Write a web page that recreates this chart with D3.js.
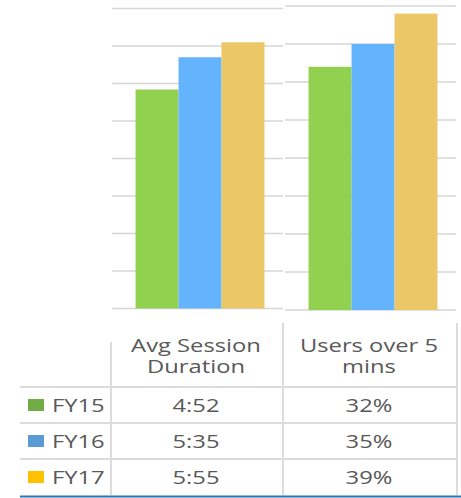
<!DOCTYPE html>
<html>
<head>
<meta charset="utf-8">
<script src="https://cdn.jsdelivr.net/npm/d3@7"></script>
<style>
  body { margin: 0; background: #fff; }
  svg { display: block; font-family: 'Open Sans', sans-serif; }
</style>
</head>
<body>
<div id="chart-area"></div>
<script>
// Data
const series = ['FY15', 'FY16', 'FY17'];
const headerLines = [['Avg Session', 'Duration'], ['Users over 5', 'mins']];
const durationSeconds = [292, 335, 355];
const durationLabels = ['4:52', '5:35', '5:55'];
const usersOver5 = [32, 35, 39];
const usersLabels = ['32%', '35%', '39%'];

// Constants
const WIDTH = 461;
const HEIGHT = 498;
const BAR_COLORS = ['#92d050', '#63b3fd', '#ebc767'];
const KEY_COLORS = ['#70ad47', '#5b9bd5', '#ffc000'];
const GRID = '#d6d6d6';
const TEXT = '#595959';
const STRETCH = 'scale(1.25,1)';   // the source text is drawn wide

const svg = d3.select('#chart-area')
    .append('svg')
    .attr('width', WIDTH)
    .attr('height', HEIGHT);

// Two small panels, one per metric
const panels = [
    { values: durationSeconds, max: 400, step: 50, x: [112, 283], y: [308.5, 8.5] },
    { values: usersOver5, max: 40, step: 5, x: [285, 456], y: [310, 6] }
];

panels.forEach(p => {
    const y = d3.scaleLinear().domain([0, p.max]).range(p.y);
    const x = d3.scaleBand()
        .domain(series)
        .range(p.x)
        .paddingInner(0)
        .paddingOuter(0.49)
        .align(0.56);

    const g = svg.append('g');

    // gridlines
    g.selectAll('line.grid')
        .data(d3.range(0, p.max + p.step / 2, p.step))
        .enter().append('line')
        .attr('class', 'grid')
        .attr('x1', p.x[0])
        .attr('x2', p.x[1])
        .attr('y1', d => y(d))
        .attr('y2', d => y(d))
        .attr('stroke', GRID)
        .attr('stroke-width', 1.5);

    // bars
    g.selectAll('rect')
        .data(p.values)
        .enter().append('rect')
        .attr('x', (d, i) => x(series[i]))
        .attr('width', x.bandwidth())
        .attr('y', d => y(d))
        .attr('height', d => y(0) - y(d))
        .attr('fill', (d, i) => BAR_COLORS[i]);
});

// Data table
const colX = d3.scalePoint().domain([0, 1]).range([196, 369]);
const rowY = d3.scaleBand().domain(series).range([387, 495]);

const table = svg.append('g');

// horizontal rules
table.selectAll('line.row')
    .data(series)
    .enter().append('line')
    .attr('class', 'row')
    .attr('x1', 20).attr('x2', 458)
    .attr('y1', d => rowY(d)).attr('y2', d => rowY(d))
    .attr('stroke', '#dcdcdc')
    .attr('stroke-width', 2);

table.append('line')
    .attr('x1', 20).attr('x2', WIDTH)
    .attr('y1', 496.5).attr('y2', 496.5)
    .attr('stroke', '#2e75b6')
    .attr('stroke-width', 2);

// vertical rules
[[111, 342], [283, 323], [457, 323]].forEach(([vx, top]) => {
    table.append('line')
        .attr('x1', vx).attr('x2', vx)
        .attr('y1', top).attr('y2', 495)
        .attr('stroke', '#dcdcdc')
        .attr('stroke-width', 2);
});

function label(x, y, anchor) {
    return table.append('text')
        .attr('transform', `translate(${x},${y}) ${STRETCH}`)
        .attr('text-anchor', anchor)
        .attr('fill', TEXT)
        .attr('font-size', 19);
}

// headers
headerLines.forEach((lines, c) => {
    label(colX(c), 352, 'middle')
        .selectAll('tspan')
        .data(lines)
        .enter().append('tspan')
        .attr('x', 0)
        .attr('y', (d, i) => i * 21.5)
        .text(d => d);
});

// rows
series.forEach((s, i) => {
    const cy = rowY(s) + rowY.bandwidth() / 2;
    table.append('rect')
        .attr('x', 28).attr('y', cy - 6)
        .attr('width', 16).attr('height', 12)
        .attr('fill', KEY_COLORS[i]);
    label(52, cy + 7, 'start').text(s);
    [durationLabels[i], usersLabels[i]].forEach((t, c) => {
        label(colX(c), cy + 7, 'middle').text(t);
    });
});
</script>
</body>
</html>
